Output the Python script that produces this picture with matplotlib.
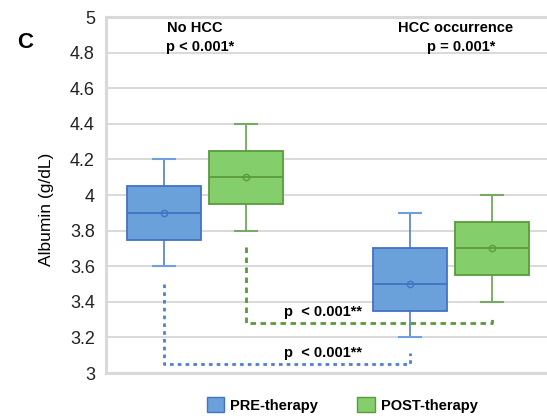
import matplotlib
matplotlib.use("Agg")
import matplotlib.pyplot as plt
from matplotlib.patches import Patch

plt.rcParams['font.family'] = ['Liberation Sans', 'DejaVu Sans']

groups = ["No HCC", "HCC occurrence"]
group_p = ["p < 0.001*", "p = 0.001*"]
series = ["PRE-therapy", "POST-therapy"]
# [whisker_low, q1, median, q3, whisker_high, mean]
pre_stats = [[3.6, 3.75, 3.9, 4.05, 4.2, 3.9],
             [3.2, 3.35, 3.5, 3.7, 3.9, 3.5]]
post_stats = [[3.8, 3.95, 4.1, 4.25, 4.4, 4.1],
              [3.4, 3.55, 3.7, 3.85, 4.0, 3.7]]
compare_p = ["p  < 0.001**", "p  < 0.001**"]
yticks = [3, 3.2, 3.4, 3.6, 3.8, 4, 4.2, 4.4, 4.6, 4.8, 5]
ytick_labels = ["3", "3.2", "3.4", "3.6", "3.8", "4", "4.2", "4.4", "4.6", "4.8", "5"]

fills = ["#6aa1db", "#84cf6c"]
edges = ["#4472c4", "#5a9a3c"]
caps = ["#6f9fdc", "#7aa866"]

fig = plt.figure(figsize=(5.47, 4.18), dpi=100)
ax = fig.add_axes([106/547, 1-373/418, 441/547, 356/418])

off = 0.1667
width = 0.30
for si, stats in enumerate([pre_stats, post_stats]):
    for gi, s in enumerate(stats):
        bx = {'whislo': s[0], 'q1': s[1], 'med': s[2], 'q3': s[3], 'whishi': s[4],
              'mean': s[5], 'fliers': []}
        pos = gi + (-off if si == 0 else off)
        ax.bxp([bx], positions=[pos], widths=width, patch_artist=True,
               showmeans=True, manage_ticks=False,
               boxprops=dict(facecolor=fills[si], edgecolor=edges[si], linewidth=1.3),
               medianprops=dict(color=edges[si], linewidth=1.3),
               whiskerprops=dict(color=edges[si], linewidth=1.1),
               capprops=dict(color=caps[si], linewidth=1.5),
               capwidths=0.09,
               meanprops=dict(marker='o', markersize=4.5, markerfacecolor='none',
                              markeredgecolor=edges[si], markeredgewidth=1.0),
               zorder=3)

# comparison brackets (PRE: blue, POST: green)
ax.plot([-off, -off, 1-off, 1-off], [3.5, 3.05, 3.05, 3.11],
        color="#4f7fd0", linestyle=(0, (1.3, 1.5)), linewidth=2.0, zorder=2)
ax.plot([off, off, 1+off, 1+off], [3.71, 3.28, 3.28, 3.32],
        color=edges[1], linestyle=(0, (2.0, 1.6)), linewidth=2.0, zorder=2)
ax.text(0.32, 3.34, compare_p[1], fontsize=10.5, fontweight='bold', ha='left', va='center')
ax.text(0.32, 3.115, compare_p[0], fontsize=10.5, fontweight='bold', ha='left', va='center')

# headers
ax.text(0.0 - 0.04, 4.94, groups[0], fontsize=10.5, fontweight='bold', ha='center', va='center')
ax.text(0.0 - 0.02, 4.83, group_p[0], fontsize=10.5, fontweight='bold', ha='center', va='center')
ax.text(1.02, 4.94, groups[1], fontsize=10.5, fontweight='bold', ha='center', va='center')
ax.text(1.04, 4.83, group_p[1], fontsize=10.5, fontweight='bold', ha='center', va='center')

ax.set_xlim(-0.402, 1.390)
ax.set_ylim(3, 5)
ax.set_yticks(yticks)
ax.set_yticklabels(ytick_labels, fontsize=13)
ax.set_xticks([])
ax.tick_params(axis='y', length=0, pad=8)
for t in ax.get_yticklabels():
    t.set_color('#222222')
ax.yaxis.grid(True, color='#d9d9d9', linewidth=1.4)
ax.set_axisbelow(True)
for side in ['left', 'top', 'bottom']:
    ax.spines[side].set_color('#d9d9d9')
    ax.spines[side].set_linewidth(2.2)
ax.spines['right'].set_visible(False)
ax.set_ylabel("Albumin (g/dL)", fontsize=12.5)
ax.yaxis.set_label_coords(-(106-54)/441, 0.46)

fig.text(25/547, 1-42/418, "C", fontsize=16, fontweight='bold', ha='center', va='center')

handles = [Patch(facecolor=fills[i], edgecolor=edges[i], linewidth=1.0) for i in range(2)]
fig.legend(handles, series, loc='center', bbox_to_anchor=(342/547, 1-405/418),
           ncol=2, frameon=False, prop=dict(weight='bold', size=10.5),
           handlelength=1.2, handleheight=1.2, handletextpad=0.4, columnspacing=2.7)

fig.savefig("out.png", dpi=100)
